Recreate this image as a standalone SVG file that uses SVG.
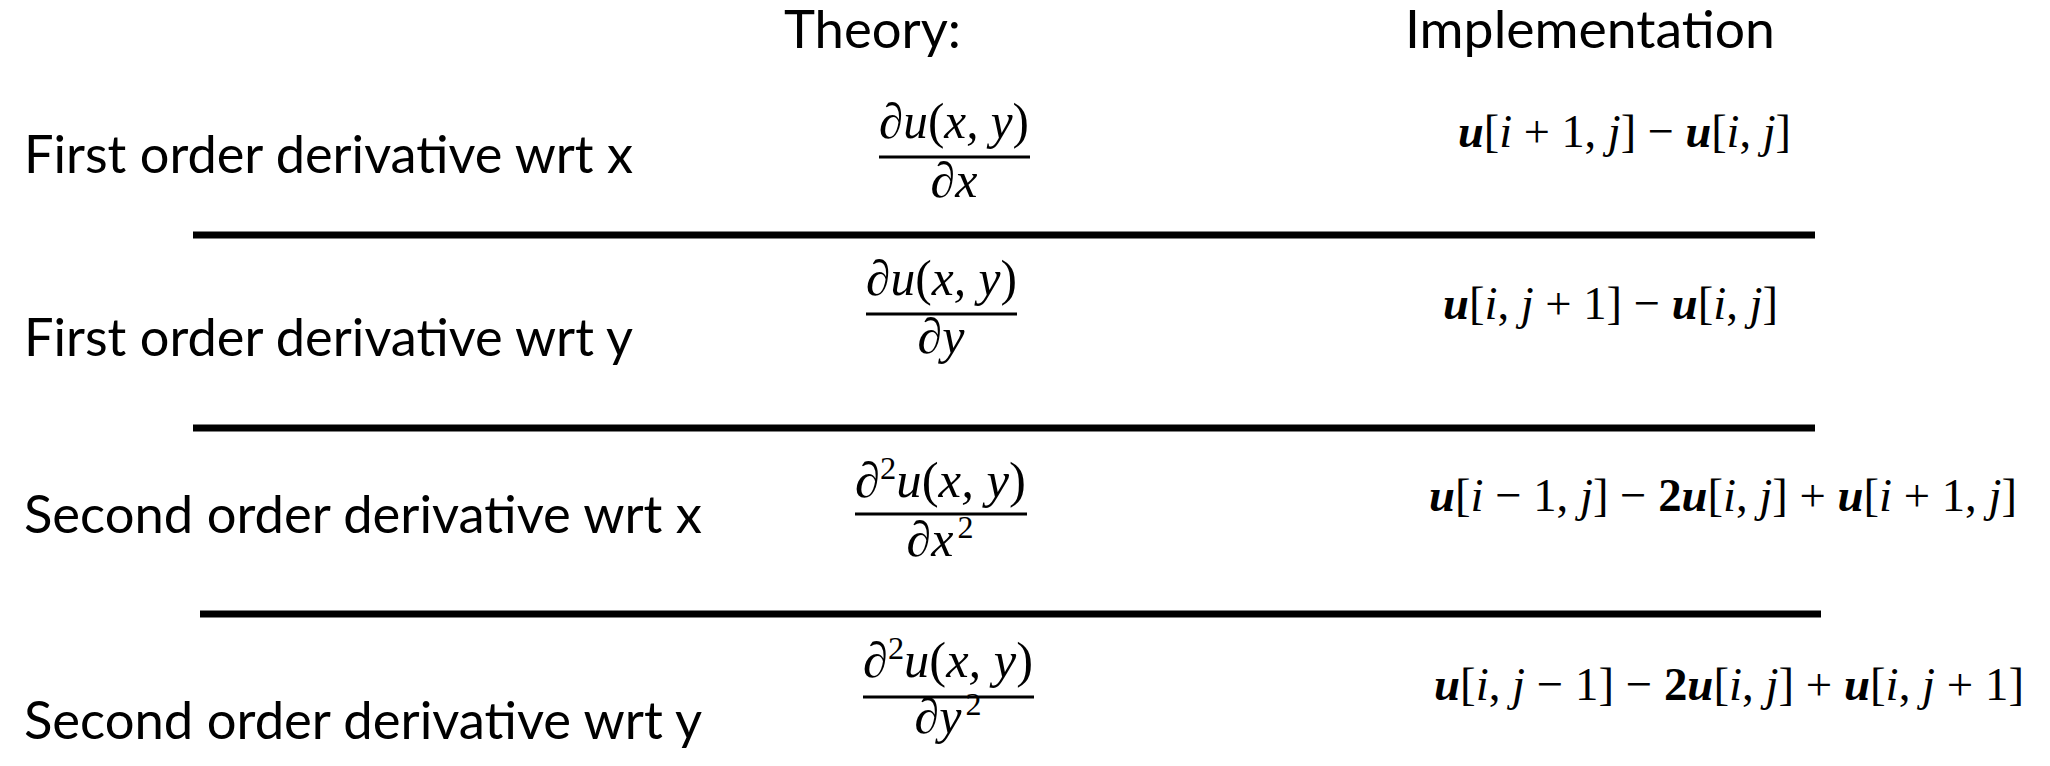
<svg xmlns="http://www.w3.org/2000/svg" width="2050" height="766" viewBox="0 0 2050 766">
<style>
.hdr{font-family:Lato,"Liberation Sans",sans-serif;font-size:52px;fill:#000}
.lbl{font-family:Lato,"Liberation Sans",sans-serif;font-size:53px;fill:#000}
.th{font-family:"Liberation Serif",serif;font-style:italic;font-size:50px;fill:#000}
.up{font-style:normal}
.im{font-family:"Liberation Serif",serif;font-size:47px;fill:#000}
.it{font-style:italic}
.b{font-weight:bold;font-style:italic}
.b2{font-weight:bold}
.rule{stroke:#000;stroke-width:7}
.bar{stroke:#000;stroke-width:3}
</style>
<g id="headers">
<text class="hdr" x="784" y="48" textLength="177" lengthAdjust="spacingAndGlyphs">Theory:</text>
<text class="hdr" x="1405" y="48" textLength="370" lengthAdjust="spacingAndGlyphs">Implementation</text>
</g>
<g id="row1">
<text class="lbl" x="24" y="173" textLength="609" lengthAdjust="spacingAndGlyphs">First order derivative wrt x</text>
<text class="th" x="879" y="138" textLength="150" lengthAdjust="spacingAndGlyphs">∂u<tspan class="up">(</tspan>x, y<tspan class="up">)</tspan></text>
<line class="bar" x1="879" y1="157" x2="1030" y2="157"/>
<text class="th" x="954" y="197" text-anchor="middle">∂x</text>
<text class="im" x="1458" y="147" textLength="333" lengthAdjust="spacingAndGlyphs"><tspan class="b">u</tspan>[<tspan class="it">i</tspan> + 1, <tspan class="it">j</tspan>] − <tspan class="b">u</tspan>[<tspan class="it">i</tspan>, <tspan class="it">j</tspan>]</text>
</g>
<g id="row2">
<text class="lbl" x="24" y="356" textLength="609" lengthAdjust="spacingAndGlyphs">First order derivative wrt y</text>
<text class="th" x="866" y="295" textLength="151" lengthAdjust="spacingAndGlyphs">∂u<tspan class="up">(</tspan>x, y<tspan class="up">)</tspan></text>
<line class="bar" x1="866" y1="314" x2="1017" y2="314"/>
<text class="th" x="941" y="353" text-anchor="middle">∂y</text>
<text class="im" x="1443" y="319" textLength="335" lengthAdjust="spacingAndGlyphs"><tspan class="b">u</tspan>[<tspan class="it">i</tspan>, <tspan class="it">j</tspan> + 1] − <tspan class="b">u</tspan>[<tspan class="it">i</tspan>, <tspan class="it">j</tspan>]</text>
</g>
<g id="row3">
<text class="lbl" x="24" y="533" textLength="678" lengthAdjust="spacingAndGlyphs">Second order derivative wrt x</text>
<text class="th" x="855" y="497" textLength="171" lengthAdjust="spacingAndGlyphs">∂<tspan class="up" font-size="32" dy="-18">2</tspan><tspan dy="18">u</tspan><tspan class="up">(</tspan>x, y<tspan class="up">)</tspan></text>
<line class="bar" x1="855" y1="514" x2="1027" y2="514"/>
<text class="th" x="940" y="556" text-anchor="middle">∂x<tspan class="up" font-size="32" dx="4" dy="-18">2</tspan></text>
<text class="im" x="1429" y="511" textLength="588" lengthAdjust="spacingAndGlyphs"><tspan class="b">u</tspan>[<tspan class="it">i</tspan> − 1, <tspan class="it">j</tspan>] − <tspan class="b2">2</tspan><tspan class="b">u</tspan>[<tspan class="it">i</tspan>, <tspan class="it">j</tspan>] + <tspan class="b">u</tspan>[<tspan class="it">i</tspan> + 1, <tspan class="it">j</tspan>]</text>
</g>
<g id="row4">
<text class="lbl" x="24" y="739" textLength="678" lengthAdjust="spacingAndGlyphs">Second order derivative wrt y</text>
<text class="th" x="863" y="677" textLength="170" lengthAdjust="spacingAndGlyphs">∂<tspan class="up" font-size="32" dy="-18">2</tspan><tspan dy="18">u</tspan><tspan class="up">(</tspan>x, y<tspan class="up">)</tspan></text>
<line class="bar" x1="863" y1="697" x2="1034" y2="697"/>
<text class="th" x="948" y="733" text-anchor="middle">∂y<tspan class="up" font-size="32" dx="4" dy="-18">2</tspan></text>
<text class="im" x="1434" y="700" textLength="590" lengthAdjust="spacingAndGlyphs"><tspan class="b">u</tspan>[<tspan class="it">i</tspan>, <tspan class="it">j</tspan> − 1] − <tspan class="b2">2</tspan><tspan class="b">u</tspan>[<tspan class="it">i</tspan>, <tspan class="it">j</tspan>] + <tspan class="b">u</tspan>[<tspan class="it">i</tspan>, <tspan class="it">j</tspan> + 1]</text>
</g>
<g id="connectors">
<line class="rule" x1="193" y1="235" x2="1815" y2="235"/>
<line class="rule" x1="193" y1="428" x2="1815" y2="428"/>
<line class="rule" x1="200" y1="614" x2="1821" y2="614"/>
</g>
</svg>
